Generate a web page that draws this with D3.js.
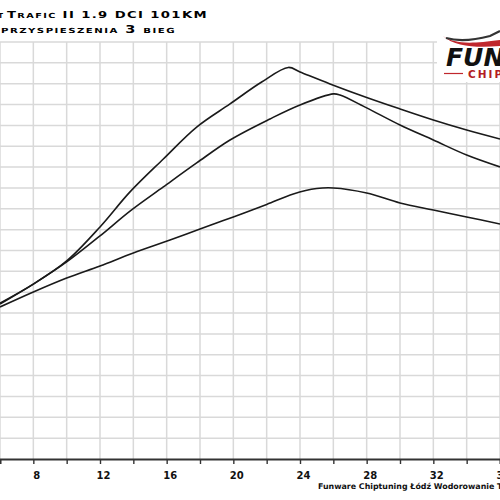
<!DOCTYPE html>
<html>
<head>
<meta charset="utf-8">
<script src="https://d3js.org/d3.v7.min.js"></script>
<style>
  body { margin: 0; background: #fff; }
  svg { display: block; }
</style>
</head>
<body>
<svg width="500" height="500"></svg>
<script>
// speed (x) and acceleration readings (y, grid units) for the three runs
var speedTop = [6, 8, 10, 12, 13.8, 15.8, 17.8, 19.8, 21.7, 23.3, 24, 25.8, 28, 30, 32, 34, 36];
var accelTop = [7.48, 8.39, 9.50, 11.13, 12.81, 14.39, 15.92, 17.03, 18.08, 18.78, 18.56, 17.99, 17.34, 16.79, 16.26, 15.78, 15.35];

var speedMid = [6, 8, 10, 12, 13.8, 15.8, 17.8, 19.8, 22.2, 24, 26, 26.4, 28, 30, 32, 34, 36];
var accelMid = [7.43, 8.39, 9.45, 10.70, 11.89, 13.05, 14.20, 15.30, 16.31, 16.98, 17.51, 17.46, 16.84, 16.02, 15.30, 14.58, 14.01];

var speedLow = [6, 8, 10, 12, 14, 16.2, 18, 20, 22, 23.6, 25, 26, 28, 30, 32, 34, 36];
var accelLow = [7.29, 8.01, 8.68, 9.26, 9.88, 10.50, 11.03, 11.61, 12.21, 12.71, 12.97, 13.00, 12.76, 12.28, 11.94, 11.61, 11.27];

var xTicks = [6, 8, 10, 12, 14, 16, 18, 20, 22, 24, 26, 28, 30, 32, 34, 36];
var xLabels = [8, 12, 16, 20, 24, 28, 32, 36];

var svg = d3.select("svg"),
    width = +svg.attr("width"),
    height = +svg.attr("height");

var x = d3.scaleLinear().domain([6, 36]).range([0, 500]);
var y = d3.scaleLinear().domain([0, 20]).range([459, 42]);

// grid
var grid = svg.append("g").attr("stroke", "#d9d9d9").attr("stroke-width", 1.5);
grid.selectAll(".h")
    .data(d3.range(1, 21))
    .enter().append("line")
    .attr("x1", 0).attr("x2", width)
    .attr("y1", function(d) { return y(d); })
    .attr("y2", function(d) { return y(d); });
grid.selectAll(".v")
    .data(xTicks)
    .enter().append("line")
    .attr("x1", function(d) { return x(d); })
    .attr("x2", function(d) { return x(d); })
    .attr("y1", y(20)).attr("y2", y(0));

// axis
var axis = svg.append("g").attr("transform", "translate(0," + y(0) + ")")
    .call(d3.axisBottom(x).tickValues(xTicks).tickSize(5).tickFormat(""));
axis.select(".domain").attr("stroke", "#333").attr("stroke-width", 1.8);
axis.selectAll(".tick line").attr("stroke", "#333").attr("stroke-width", 1.4);

svg.append("g").selectAll("text")
    .data(xLabels)
    .enter().append("text")
    .attr("x", function(d) { return x(d) + 3.5; })
    .attr("y", 479)
    .attr("text-anchor", "middle")
    .attr("font-family", "DejaVu Sans")
    .attr("font-weight", "bold")
    .attr("font-size", 10)
    .attr("fill", "#111")
    .text(function(d) { return d; });

// curves
var line = d3.line()
    .x(function(d) { return x(d[0]); })
    .y(function(d) { return y(d[1]); })
    .curve(d3.curveCatmullRom.alpha(0.5));

[[speedTop, accelTop], [speedMid, accelMid], [speedLow, accelLow]].forEach(function(s) {
  svg.append("path")
    .datum(d3.zip(s[0], s[1]))
    .attr("fill", "none")
    .attr("stroke", "#1a1a1a")
    .attr("stroke-width", 1.6)
    .attr("d", line);
});

// logo box
svg.append("rect").attr("x", 437).attr("y", 28).attr("width", 63).attr("height", 54).attr("fill", "#fff");
svg.append("path")
    .attr("d", "M443,36 C455,44 470,44 500,40 L500,46 C478,48 455,47 443,36 Z")
    .attr("fill", "#c0272d");
svg.append("path")
    .attr("d", "M446,38 C460,42 475,40 490,36 L500,31")
    .attr("fill", "none").attr("stroke", "#333").attr("stroke-width", 2.2);
svg.append("text")
    .attr("x", 446).attr("y", 66)
    .attr("font-family", "DejaVu Sans").attr("font-weight", "bold").attr("font-style", "italic")
    .attr("font-size", 25).attr("fill", "#111")
    .text("FUNWARE");
svg.append("line").attr("x1", 444).attr("x2", 463).attr("y1", 73.5).attr("y2", 73.5)
    .attr("stroke", "#c0272d").attr("stroke-width", 1.2);
svg.append("text")
    .attr("x", 468).attr("y", 77.5)
    .attr("font-family", "DejaVu Sans").attr("font-weight", "bold")
    .attr("font-size", 10.5).attr("letter-spacing", 2).attr("fill", "#b31d24")
    .text("CHIPTUNING");

// titles
svg.append("text")
    .attr("x", 3).attr("y", 17.5)
    .attr("text-anchor", "end")
    .attr("font-family", "DejaVu Sans").attr("font-weight", "bold")
    .attr("font-size", 9.5).style("font-variant", "small-caps")
    .text("Renault");
svg.append("text")
    .attr("x", 7).attr("y", 17.5)
    .attr("font-family", "DejaVu Sans").attr("font-weight", "bold")
    .attr("font-size", 9.5).style("font-variant", "small-caps")
    .attr("letter-spacing", 1)
    .attr("textLength", 201).attr("lengthAdjust", "spacingAndGlyphs")
    .text("Trafic II 1.9 DCI 101KM");
svg.append("text")
    .attr("x", 1).attr("y", 32.5)
    .attr("font-family", "DejaVu Sans").attr("font-weight", "bold")
    .attr("font-size", 10).style("font-variant", "small-caps")
    .attr("letter-spacing", 1)
    .attr("textLength", 175).attr("lengthAdjust", "spacingAndGlyphs")
    .text("przyspieszenia 3 bieg");

// footer
svg.append("text")
    .attr("x", 318).attr("y", 489)
    .attr("font-family", "DejaVu Sans").attr("font-weight", "bold")
    .attr("font-size", 7.9).attr("fill", "#111")
    .text("Funware Chiptuning Łódź Wodorowanie Twojego Auta");
</script>
</body>
</html>
